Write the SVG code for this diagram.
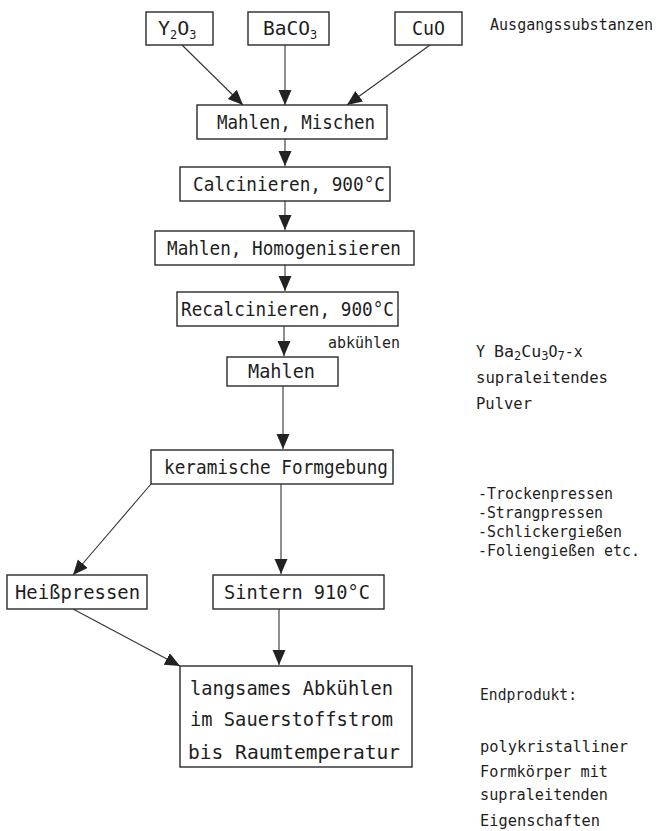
<svg xmlns="http://www.w3.org/2000/svg" width="661" height="831" viewBox="0 0 661 831">
<style>
.box{fill:#fff;stroke:#2a2a2a;stroke-width:1.4}
.t{font-family:"DejaVu Sans Mono","Liberation Mono",monospace;font-size:20px;fill:#1e1e1e}
.s{font-family:"DejaVu Sans Mono","Liberation Mono",monospace;font-size:15px;fill:#1e1e1e}
.sub{font-size:12px}
.c{stroke:#333;stroke-width:1.1;fill:none}
</style>
<defs>
<marker id="ah" markerUnits="userSpaceOnUse" markerWidth="16" markerHeight="14" refX="15" refY="6.5" orient="auto">
<path d="M0,0 L15,6.5 L0,13 z" fill="#222"/>
</marker>
</defs>
<rect width="661" height="831" fill="#fff"/>
<g id="connectors">
<line class="c" x1="182" y1="45" x2="243" y2="105" marker-end="url(#ah)"/>
<line class="c" x1="285" y1="45" x2="285" y2="105" marker-end="url(#ah)"/>
<line class="c" x1="430" y1="45" x2="347" y2="105" marker-end="url(#ah)"/>
<line class="c" x1="285" y1="139" x2="285" y2="166" marker-end="url(#ah)"/>
<line class="c" x1="285" y1="201" x2="285" y2="230" marker-end="url(#ah)"/>
<line class="c" x1="285" y1="265" x2="285" y2="291" marker-end="url(#ah)"/>
<line class="c" x1="284" y1="326" x2="284" y2="356" marker-end="url(#ah)"/>
<line class="c" x1="283" y1="386" x2="283" y2="449" marker-end="url(#ah)"/>
<line class="c" x1="151" y1="484" x2="73" y2="575" marker-end="url(#ah)"/>
<line class="c" x1="281" y1="484" x2="281" y2="574" marker-end="url(#ah)"/>
<line class="c" x1="73" y1="609" x2="180" y2="666" marker-end="url(#ah)"/>
<line class="c" x1="279" y1="609" x2="279" y2="665" marker-end="url(#ah)"/>
</g>
<g id="n-y2o3">
<rect class="box" x="146" y="12" width="67" height="33"/>
<text class="t" x="158" y="35">Y<tspan class="sub" dy="4">2</tspan><tspan dy="-4">O</tspan><tspan class="sub" dy="4">3</tspan></text>
</g>
<g id="n-baco3">
<rect class="box" x="248" y="12" width="81" height="33"/>
<text class="t" x="263" y="35"><tspan textLength="47" lengthAdjust="spacingAndGlyphs">BaCO</tspan><tspan class="sub" dy="4">3</tspan></text>
</g>
<g id="n-cuo">
<rect class="box" x="395" y="12" width="67" height="33"/>
<text class="t" x="412" y="35" textLength="33" lengthAdjust="spacingAndGlyphs">CuO</text>
</g>
<g id="n-mischen">
<rect class="box" x="197" y="105" width="190" height="34"/>
<text class="t" x="217" y="129" textLength="158" lengthAdjust="spacingAndGlyphs">Mahlen, Mischen</text>
</g>
<g id="n-calc">
<rect class="box" x="180" y="167" width="210" height="34"/>
<text class="t" x="193" y="191" textLength="192" lengthAdjust="spacingAndGlyphs">Calcinieren, 900°C</text>
</g>
<g id="n-homog">
<rect class="box" x="155" y="231" width="259" height="34"/>
<text class="t" x="167" y="255" textLength="234" lengthAdjust="spacingAndGlyphs">Mahlen, Homogenisieren</text>
</g>
<g id="n-recalc">
<rect class="box" x="177" y="292" width="221" height="34"/>
<text class="t" x="181" y="316" textLength="213" lengthAdjust="spacingAndGlyphs">Recalcinieren, 900°C</text>
</g>
<g id="n-mahlen">
<rect class="box" x="227" y="357" width="111" height="29"/>
<text class="t" x="248" y="378" textLength="67" lengthAdjust="spacingAndGlyphs">Mahlen</text>
</g>
<g id="n-keram">
<rect class="box" x="151" y="450" width="242" height="34"/>
<text class="t" x="164" y="474" textLength="224" lengthAdjust="spacingAndGlyphs">keramische Formgebung</text>
</g>
<g id="n-heiss">
<rect class="box" x="7" y="575" width="140" height="34"/>
<text class="t" x="15" y="599" textLength="125" lengthAdjust="spacingAndGlyphs">Heißpressen</text>
</g>
<g id="n-sintern">
<rect class="box" x="213" y="575" width="171" height="34"/>
<text class="t" x="224" y="599" textLength="146" lengthAdjust="spacingAndGlyphs">Sintern 910°C</text>
</g>
<g id="n-abk">
<rect class="box" x="180" y="666" width="232" height="101"/>
<text class="t" x="190" y="695" textLength="203" lengthAdjust="spacingAndGlyphs">langsames Abkühlen</text>
<text class="t" x="190" y="726" textLength="203" lengthAdjust="spacingAndGlyphs">im Sauerstoffstrom</text>
<text class="t" x="188" y="759" textLength="212" lengthAdjust="spacingAndGlyphs">bis Raumtemperatur</text>
</g>
<g id="labels">
<text class="s" x="490" y="30" textLength="163" lengthAdjust="spacingAndGlyphs">Ausgangssubstanzen</text>
<text class="s" x="328" y="348" textLength="72" lengthAdjust="spacingAndGlyphs">abkühlen</text>
<text class="s" x="476" y="357">Y <tspan textLength="20" lengthAdjust="spacingAndGlyphs">Ba</tspan><tspan class="sub" dy="3">2</tspan><tspan dy="-3" textLength="20" lengthAdjust="spacingAndGlyphs">Cu</tspan><tspan class="sub" dy="3">3</tspan><tspan dy="-3">O</tspan><tspan class="sub" dy="3">7</tspan><tspan dy="-3">-x</tspan></text>
<text class="s" x="476" y="383" textLength="132" lengthAdjust="spacingAndGlyphs">supraleitendes</text>
<text class="s" x="476" y="409" textLength="56" lengthAdjust="spacingAndGlyphs">Pulver</text>
<text class="s" x="478" y="499" textLength="135" lengthAdjust="spacingAndGlyphs">-Trockenpressen</text>
<text class="s" x="478" y="518" textLength="125" lengthAdjust="spacingAndGlyphs">-Strangpressen</text>
<text class="s" x="478" y="537" textLength="144" lengthAdjust="spacingAndGlyphs">-Schlickergießen</text>
<text class="s" x="478" y="556" textLength="162" lengthAdjust="spacingAndGlyphs">-Foliengießen etc.</text>
<text class="s" x="480" y="700" textLength="97" lengthAdjust="spacingAndGlyphs">Endprodukt:</text>
<text class="s" x="480" y="752" textLength="148" lengthAdjust="spacingAndGlyphs">polykristalliner</text>
<text class="s" x="480" y="777" textLength="128" lengthAdjust="spacingAndGlyphs">Formkörper mit</text>
<text class="s" x="480" y="800" textLength="128" lengthAdjust="spacingAndGlyphs">supraleitenden</text>
<text class="s" x="480" y="826" textLength="120" lengthAdjust="spacingAndGlyphs">Eigenschaften</text>
</g>
</svg>
